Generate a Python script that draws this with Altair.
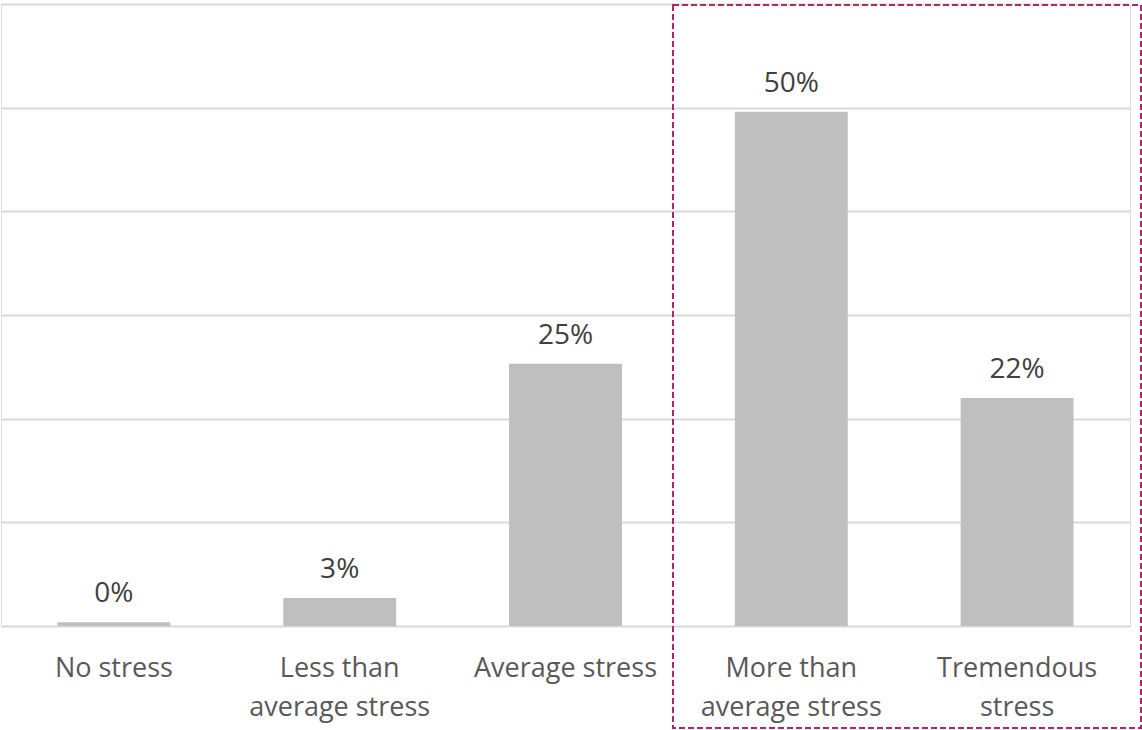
import altair as alt
import pandas as pd

# Survey categories and the share of respondents in each
categories = [
    "No stress",
    "Less than\naverage stress",
    "Average stress",
    "More than\naverage stress",
    "Tremendous\nstress",
]
shares = [0.0035, 0.027, 0.253, 0.496, 0.220]

df = pd.DataFrame({"category": categories, "share": shares})

FONT = "Open Sans"

x_enc = alt.X(
    "category:N",
    sort=categories,
    scale=alt.Scale(paddingInner=0.5, paddingOuter=0.25),
    axis=alt.Axis(
        title=None,
        labelAngle=0,
        labelExpr="split(datum.label, '\\n')",
        labelFont=FONT,
        labelFontSize=27,
        labelColor="#595959",
        labelLineHeight=39,
        labelPadding=29,
        labelLimit=400,
        labelBaseline="top",
        domain=False,
        ticks=False,
    ),
)
y_enc = alt.Y(
    "share:Q",
    scale=alt.Scale(domain=[0, 0.6], nice=False),
    axis=alt.Axis(
        title=None,
        labels=False,
        ticks=False,
        domain=False,
        values=[0, 0.1, 0.2, 0.3, 0.4, 0.5, 0.6],
        grid=True,
        gridColor="#d9d9d9",
        gridWidth=2,
    ),
)

bars = alt.Chart(df).mark_bar(color="#bfbfbf").encode(x=x_enc, y=y_enc)

labels = alt.Chart(df).mark_text(
    font=FONT, fontSize=28, color="#404040", baseline="alphabetic", dy=-20
).encode(
    x=alt.X("category:N", sort=categories),
    y="share:Q",
    text=alt.Text("share:Q", format=".0%"),
)

# Dashed frame around the two highest-stress groups
frame = alt.Chart(pd.DataFrame({"k": [0]})).mark_rect(
    fill=None,
    stroke="#b0246c",
    strokeWidth=2,
    strokeDash=[6, 3],
).encode(
    x=alt.value(672),
    x2=alt.value(1140),
    y=alt.value(1),
    y2=alt.value(724),
)

chart = (
    alt.layer(bars, labels, frame)
    .properties(
        width=1129,
        height=622,
        padding={"left": 1, "top": 4, "right": 12, "bottom": 104},
        autosize=alt.AutoSizeParams(type="none"),
    )
    .configure_view(stroke=None)
    .configure(background="white")
)

chart.save("out.html", embed_options={"renderer": "svg", "actions": False})
